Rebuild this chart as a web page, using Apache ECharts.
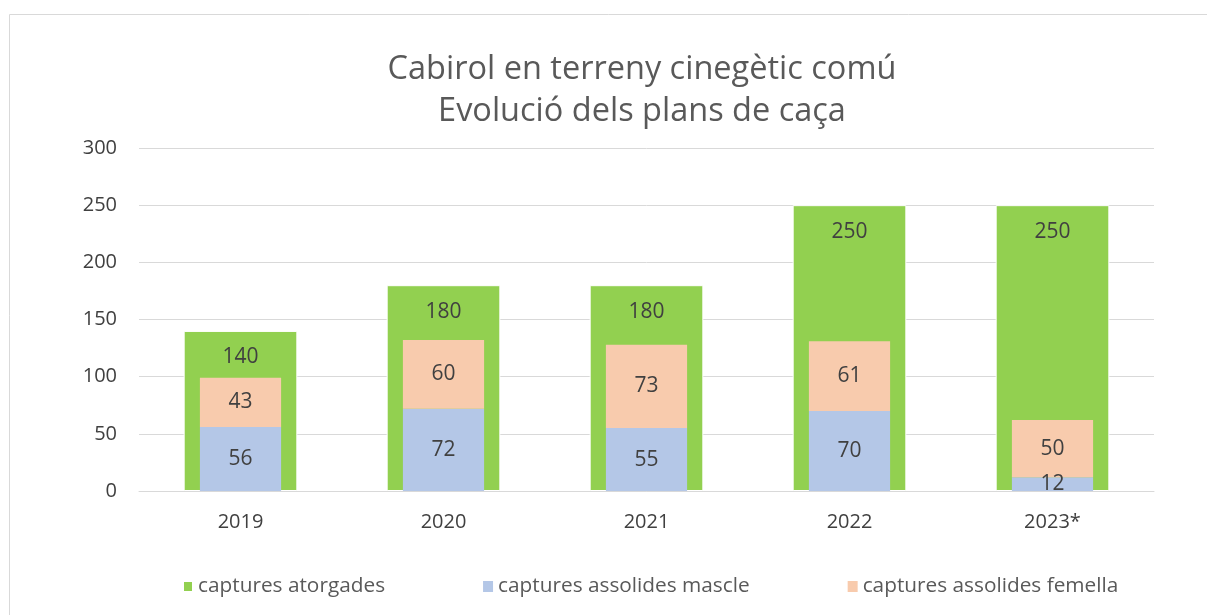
<!DOCTYPE html>
<html>
<head>
<meta charset="utf-8">
<script src="https://cdn.jsdelivr.net/npm/echarts@6/dist/echarts.min.js"></script>
<style>
  html, body { margin: 0; padding: 0; background: #fff; }
  #chart { width: 1207px; height: 615px; }
</style>
</head>
<body>
<div id="chart"></div>
<script>
  // dades del gràfic
  var years = ['2019', '2020', '2021', '2022', '2023*']
  var atorgades = [140, 180, 180, 250, 250]
  var mascle = [56, 72, 55, 70, 12]
  var femella = [43, 60, 73, 61, 50]
  var names = ['captures atorgades', 'captures assolides mascle', 'captures assolides femella']

  var font = 'Open Sans'
  var txt = '#404040'

  var chart = echarts.init(document.getElementById('chart'))
  chart.setOption({
    animation: false,
    textStyle: { fontFamily: font },
    graphic: [{
      type: 'rect',
      shape: { x: 9.5, y: 14.5, width: 1300, height: 700 },
      style: { fill: 'none', stroke: '#d9d9d9', lineWidth: 1 },
      silent: true
    }],
    title: {
      text: 'Cabirol en terreny cinegètic comú\nEvolució dels plans de caça',
      left: 637,
      textAlign: 'center',
      top: 44,
      textStyle: { fontFamily: font, fontSize: 32.5, fontWeight: 'normal', color: '#595959', lineHeight: 42 }
    },
    legend: {
      top: 571,
      left: 177,
      itemGap: 98,
      itemWidth: 10,
      itemHeight: 11,
      icon: 'rect',
      data: names,
      textStyle: { fontFamily: font, fontSize: 20.8, color: '#595959' }
    },
    grid: { left: 139, right: 53, top: 148, bottom: 124 },
    xAxis: [{
      type: 'category',
      data: years,
      axisLine: { show: true, lineStyle: { color: '#d9d9d9', width: 1 } },
      axisTick: { show: false },
      axisLabel: { color: txt, fontSize: 20, margin: 21, fontFamily: font }
    }, {
      type: 'category',
      data: years,
      show: false
    }],
    yAxis: {
      type: 'value',
      min: 0,
      max: 300,
      interval: 50,
      axisLine: { show: false },
      axisTick: { show: false },
      splitLine: { lineStyle: { color: '#d9d9d9', width: 1 } },
      axisLabel: { color: txt, fontSize: 20, margin: 22, fontFamily: font }
    },
    series: [{
      name: names[0],
      type: 'bar',
      xAxisIndex: 0,
      barWidth: '56%',
      data: atorgades,
      itemStyle: { color: '#92d050', borderColor: '#fff', borderWidth: 1 },
      label: { show: true, position: 'insideTop', distance: 16, color: txt, fontSize: 21, fontFamily: font }
    }, {
      name: names[1],
      type: 'bar',
      xAxisIndex: 1,
      stack: 'assolides',
      barWidth: '40%',
      data: mascle,
      itemStyle: { color: '#b4c7e7' },
      label: { show: true, position: 'inside', color: txt, fontSize: 21, fontFamily: font }
    }, {
      name: names[2],
      type: 'bar',
      xAxisIndex: 1,
      stack: 'assolides',
      barWidth: '40%',
      data: femella,
      itemStyle: { color: '#f8cbad' },
      label: { show: true, position: 'inside', color: txt, fontSize: 21, fontFamily: font }
    }]
  })
</script>
</body>
</html>
